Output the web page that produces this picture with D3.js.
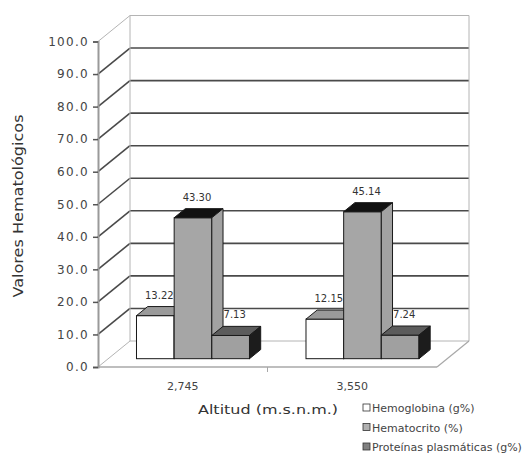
<!DOCTYPE html>
<html>
<head>
<meta charset="utf-8">
<script src="https://cdn.jsdelivr.net/npm/d3@7"></script>
<style>
  body { margin: 0; background: #fff; }
  svg { display: block; }
</style>
</head>
<body>
<script>
// Hematological values by altitude
const categories = ["2,745", "3,550"];
const seriesNames = ["Hemoglobina (g%)", "Hematocrito (%)", "Proteínas plasmáticas (g%)"];
const hemoglobina = [13.22, 12.15];
const hematocrito = [43.30, 45.14];
const proteinas = [7.13, 7.24];
const yTickValues = [0, 10, 20, 30, 40, 50, 60, 70, 80, 90, 100];

const seriesValues = [hemoglobina, hematocrito, proteinas];

// face colours per series: front, top, side, legend swatch
const palette = [
  { front: "#ffffff", top: "#9a9a9a", side: "#c8c8c8", key: "#ffffff" },
  { front: "#a6a6a6", top: "#111111", side: "#a2a2a2", key: "#b0b0b0" },
  { front: "#a0a0a0", top: "#5c5c5c", side: "#1c1c1c", key: "#808080" }
];

const W = 531, H = 454;
const svg = d3.select("body").append("svg").attr("width", W).attr("height", H);

// front plane of the 3-D box and its depth offset
const plotLeft = 98, plotRight = 437, plotBottom = 367, plotTop = 41.5;
const depthDx = 32, depthDy = -26;
const off = f => [depthDx * f, depthDy * f];

const y = d3.scaleLinear().domain([0, 100]).range([plotBottom, plotTop]);
const x0 = d3.scaleBand().domain(categories).range([plotLeft, plotRight]).padding(0);
const x1 = d3.scaleBand().domain(seriesNames).range([0, x0.bandwidth()])
  .paddingInner(0).paddingOuter(0.75);

const gridHeavy = "#4a4a4a", gridLight = "#b4b4b4";

// back wall, side wall and floor
const walls = svg.append("g");
yTickValues.forEach(v => {
  const edge = (v === 0 || v === 100);
  const col = edge ? gridLight : gridHeavy;
  const sw = edge ? 1 : 1.6;
  walls.append("line")
    .attr("x1", plotLeft + depthDx).attr("y1", y(v) + depthDy)
    .attr("x2", plotRight + depthDx).attr("y2", y(v) + depthDy)
    .attr("stroke", col).attr("stroke-width", sw);
  walls.append("line")
    .attr("x1", plotLeft).attr("y1", y(v))
    .attr("x2", plotLeft + depthDx).attr("y2", y(v) + depthDy)
    .attr("stroke", col).attr("stroke-width", sw);
});
[plotLeft + depthDx, plotRight + depthDx].forEach(xx => {
  walls.append("line")
    .attr("x1", xx).attr("y1", y(100) + depthDy)
    .attr("x2", xx).attr("y2", y(0) + depthDy)
    .attr("stroke", gridLight).attr("stroke-width", 1);
});
walls.append("line")
  .attr("x1", plotLeft).attr("y1", y(0)).attr("x2", plotRight).attr("y2", y(0))
  .attr("stroke", "#a8a8a8").attr("stroke-width", 1.5);
walls.append("line")
  .attr("x1", plotRight).attr("y1", y(0))
  .attr("x2", plotRight + depthDx).attr("y2", y(0) + depthDy)
  .attr("stroke", "#a8a8a8").attr("stroke-width", 1.2);

// category boundary ticks on the floor edge
categories.forEach((c, i) => {
  if (i === 0) return;
  walls.append("line")
    .attr("x1", x0(c)).attr("y1", y(0))
    .attr("x2", x0(c)).attr("y2", y(0) + 5)
    .attr("stroke", "#a8a8a8").attr("stroke-width", 1);
});

// value axis
const yAxis = svg.append("g")
  .attr("transform", `translate(${plotLeft},0)`)
  .call(d3.axisLeft(y).tickValues(yTickValues).tickFormat(d3.format(".1f"))
    .tickSize(5).tickPadding(4));
yAxis.select(".domain").attr("stroke", "#9a9a9a").attr("stroke-width", 2);
yAxis.selectAll(".tick line").attr("stroke", "#555").attr("stroke-width", 1.5);
yAxis.selectAll(".tick text")
  .attr("fill", "#444")
  .style("font-family", "DejaVu Sans")
  .style("font-size", "12px")
  .style("letter-spacing", "1.3px");

// bars
const f0 = 0.32, fd = 0.35;
const [bx, by] = off(f0);
const [ddx, ddy] = off(fd);
const w = x1.bandwidth();
const bars = svg.append("g");
const labelData = [];

categories.forEach((c, ci) => {
  seriesNames.forEach((s, si) => {
    const v = seriesValues[si][ci];
    const xf = x0(c) + x1(s) + bx;
    const yb = y(0) + by;
    const yt = y(v) + by;
    const p = palette[si];
    bars.append("rect")
      .attr("x", xf).attr("y", yt).attr("width", w).attr("height", yb - yt)
      .attr("fill", p.front).attr("stroke", "#1a1a1a").attr("stroke-width", 1);
    bars.append("polygon")
      .attr("points", [[xf, yt], [xf + ddx, yt + ddy], [xf + w + ddx, yt + ddy], [xf + w, yt]].join(" "))
      .attr("fill", p.top).attr("stroke", "#1a1a1a").attr("stroke-width", 1);
    bars.append("polygon")
      .attr("points", [[xf + w, yt], [xf + w + ddx, yt + ddy], [xf + w + ddx, yb + ddy], [xf + w, yb]].join(" "))
      .attr("fill", p.side).attr("stroke", "#1a1a1a").attr("stroke-width", 1);
    labelData.push({ x: xf + w / 2 + 4, y: yt - 17, v });
  });
});

// value labels
svg.append("g").selectAll("text").data(labelData).join("text")
  .attr("x", d => d.x).attr("y", d => d.y)
  .attr("text-anchor", "middle")
  .attr("fill", "#333")
  .style("font-family", "DejaVu Sans")
  .style("font-size", "10px")
  .text(d => d3.format(".2f")(d.v));

// category labels
const xAxis = svg.append("g")
  .attr("transform", `translate(0,${y(0)})`)
  .call(d3.axisBottom(x0).tickSize(0).tickPadding(15));
xAxis.select(".domain").remove();
xAxis.selectAll(".tick text")
  .attr("fill", "#444")
  .style("font-family", "DejaVu Sans")
  .style("font-size", "11px");

// axis titles
svg.append("text")
  .attr("transform", "translate(23,206) rotate(-90)")
  .attr("text-anchor", "middle")
  .attr("fill", "#333")
  .attr("textLength", 183).attr("lengthAdjust", "spacingAndGlyphs")
  .style("font-family", "DejaVu Sans")
  .style("font-size", "14px")
  .text("Valores Hematológicos");

svg.append("text")
  .attr("x", 268).attr("y", 414)
  .attr("text-anchor", "middle")
  .attr("fill", "#333")
  .attr("textLength", 140).attr("lengthAdjust", "spacingAndGlyphs")
  .style("font-family", "DejaVu Sans")
  .style("font-size", "13px")
  .text("Altitud (m.s.n.m.)");

// legend
const legend = svg.append("g");
seriesNames.forEach((s, i) => {
  const ly = 408 + i * 19.5;
  legend.append("rect")
    .attr("x", 363).attr("y", ly - 4).attr("width", 7).attr("height", 7)
    .attr("fill", palette[i].key).attr("stroke", "#333").attr("stroke-width", 0.8);
  legend.append("text")
    .attr("x", 372).attr("y", ly + 4)
    .attr("fill", "#444")
    .style("font-family", "DejaVu Sans")
    .style("font-size", "11px")
    .text(s);
});
</script>
</body>
</html>
